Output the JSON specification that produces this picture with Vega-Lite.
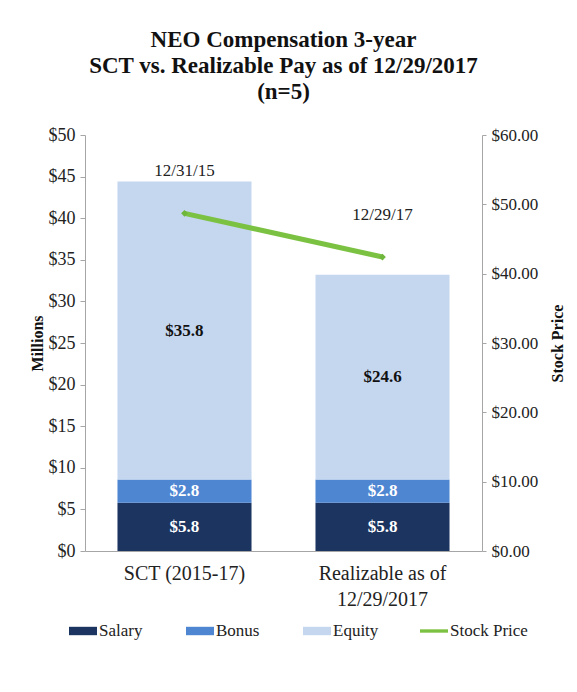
{
  "$schema": "https://vega.github.io/schema/vega-lite/v6.json",
  "width": 397,
  "height": 416,
  "autosize": {"type": "none"},
  "padding": {"left": 85, "top": 135, "right": 95, "bottom": 141},
  "background": "white",
  "title": {
    "text": ["NEO Compensation 3-year", "SCT vs. Realizable Pay as of 12/29/2017", "(n=5)"],
    "font": "Liberation Serif",
    "fontSize": 23,
    "fontWeight": "bold",
    "color": "#111111",
    "lineHeight": 26,
    "anchor": "middle",
    "offset": 22
  },
  "datasets": {
    "pay": [
      {"cat": "SCT (2015-17)", "comp": "Salary", "ord": 1, "value": 5.8},
      {"cat": "SCT (2015-17)", "comp": "Bonus", "ord": 2, "value": 2.8},
      {"cat": "SCT (2015-17)", "comp": "Equity", "ord": 3, "value": 35.8},
      {"cat": "Realizable as of 12/29/2017", "comp": "Salary", "ord": 1, "value": 5.8},
      {"cat": "Realizable as of 12/29/2017", "comp": "Bonus", "ord": 2, "value": 2.8},
      {"cat": "Realizable as of 12/29/2017", "comp": "Equity", "ord": 3, "value": 24.6}
    ],
    "stock": [
      {"cat": "SCT (2015-17)", "price": 48.7, "date": "12/31/15"},
      {"cat": "Realizable as of 12/29/2017", "price": 42.4, "date": "12/29/17"}
    ]
  },
  "encoding": {
    "x": {
      "field": "cat",
      "type": "nominal",
      "sort": null,
      "scale": {"paddingInner": 0.323, "paddingOuter": 0.164},
      "axis": {
        "title": null,
        "labelAngle": 0,
        "labelFont": "Liberation Serif",
        "labelFontSize": 20,
        "labelColor": "#222222",
        "labelLineHeight": 26,
        "labelPadding": 12,
        "ticks": false,
        "domainColor": "#a6a6a6",
        "labelExpr": "datum.label == 'Realizable as of 12/29/2017' ? ['Realizable as of', '12/29/2017'] : datum.label"
      }
    }
  },
  "layer": [
    {
      "data": {"name": "pay"},
      "transform": [
        {"stack": "value", "groupby": ["cat"], "sort": [{"field": "ord"}], "as": ["v0", "v1"]},
        {"calculate": "(datum.v0 + datum.v1) / 2", "as": "mid"}
      ],
      "layer": [
        {
          "mark": {"type": "bar"},
          "encoding": {
            "y": {
              "field": "v0",
              "type": "quantitative",
              "scale": {"domain": [0, 50], "nice": false},
              "axis": {
                "title": "Millions",
                "titleFont": "Liberation Serif",
                "titleFontSize": 16,
                "titleFontWeight": "bold",
                "titleColor": "#111111",
                "titlePadding": 3,
                "values": [0, 5, 10, 15, 20, 25, 30, 35, 40, 45, 50],
                "format": "$.0f",
                "labelFont": "Liberation Serif",
                "labelFontSize": 18,
                "labelColor": "#222222",
                "labelPadding": 5,
                "tickSize": 5,
                "tickColor": "#a6a6a6",
                "domainColor": "#a6a6a6",
                "grid": false
              }
            },
            "y2": {"field": "v1"},
            "color": {
              "field": "comp",
              "type": "nominal",
              "scale": {
                "domain": ["Salary", "Bonus", "Equity", "Stock Price"],
                "range": ["#1b3560", "#4f86d2", "#c5d6ef", "#7cc242"]
              },
              "legend": {
                "title": null,
                "orient": "none",
                "direction": "horizontal",
                "legendX": -16,
                "legendY": 482,
                "gridAlign": "all",
                "columnPadding": 9,
                "symbolType": "M-1,-0.3H1V0.3H-1Z",
                "symbolSize": 784,
                "symbolStrokeWidth": 0,
                "labelFont": "Liberation Serif",
                "labelFontSize": 17,
                "labelColor": "#222222",
                "labelOffset": 2,
                "labelLimit": 200,
                "encode": {
                  "symbols": {
                    "update": {
                      "shape": {"signal": "datum.value === 'Stock Price' ? 'M-1,-0.12H1V0.12H-1Z' : 'M-1,-0.3H1V0.3H-1Z'"}
                    }
                  }
                }
              }
            }
          }
        },
        {
          "mark": {"type": "text", "font": "Liberation Serif", "fontSize": 17, "fontWeight": "bold", "baseline": "middle"},
          "encoding": {
            "y": {"field": "mid", "type": "quantitative"},
            "text": {"field": "value", "type": "quantitative", "format": "$.1f"},
            "color": {
              "condition": {"test": "datum.comp === 'Equity'", "value": "#111111"},
              "value": "#ffffff"
            }
          }
        }
      ]
    },
    {
      "data": {"name": "stock"},
      "encoding": {
        "y": {
          "field": "price",
          "type": "quantitative",
          "scale": {"domain": [0, 60], "nice": false},
          "axis": {
            "orient": "right",
            "title": "Stock Price",
            "titleAngle": -90,
            "titleBaseline": "top",
            "titleFont": "Liberation Serif",
            "titleFontSize": 16,
            "titleFontWeight": "bold",
            "titleColor": "#111111",
            "titlePadding": 12,
            "values": [0, 10, 20, 30, 40, 50, 60],
            "format": "$.2f",
            "labelFont": "Liberation Serif",
            "labelFontSize": 17,
            "labelColor": "#222222",
            "labelPadding": 5,
            "tickSize": 4,
            "tickColor": "#a6a6a6",
            "domainColor": "#a6a6a6",
            "grid": false
          }
        }
      },
      "layer": [
        {"mark": {"type": "line", "color": "#7cc242", "strokeWidth": 5}},
        {"mark": {"type": "point", "filled": true, "shape": "diamond", "size": 45, "color": "#6fb63c", "opacity": 1}},
        {
          "mark": {"type": "text", "font": "Liberation Serif", "fontSize": 17, "color": "#222222", "dy": -42, "baseline": "middle"},
          "encoding": {"text": {"field": "date"}}
        }
      ]
    }
  ],
  "resolve": {"scale": {"y": "independent"}},
  "config": {
    "view": {"stroke": null},
    "axis": {"grid": false}
  }
}
